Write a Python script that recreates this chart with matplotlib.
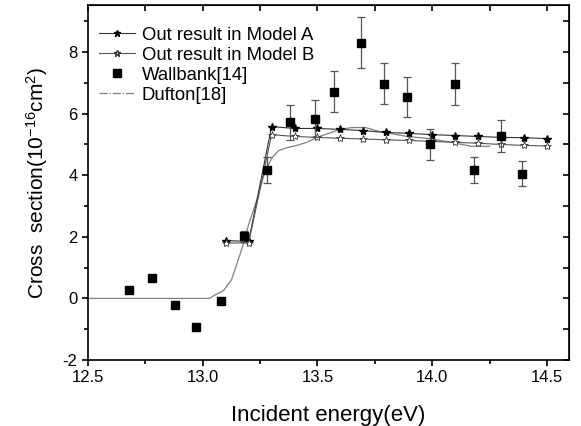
import matplotlib
matplotlib.use("Agg")
import matplotlib.pyplot as plt
from matplotlib.lines import Line2D
from matplotlib.ticker import MultipleLocator

plt.rcParams['font.family'] = ['Liberation Sans', 'DejaVu Sans']
plt.rcParams['mathtext.fontset'] = 'custom'
plt.rcParams['mathtext.rm'] = 'Liberation Sans'
plt.rcParams['mathtext.it'] = 'Liberation Sans'
plt.rcParams['axes.unicode_minus'] = False

# Model A (filled stars)
model_x = [13.1, 13.2, 13.3, 13.4, 13.5, 13.6, 13.7, 13.8, 13.9, 14.0, 14.1, 14.2, 14.3, 14.4, 14.5]
model_a = [1.88, 1.85, 5.58, 5.52, 5.52, 5.49, 5.45, 5.39, 5.36, 5.32, 5.29, 5.26, 5.23, 5.22, 5.19]
model_b = [1.80, 1.80, 5.32, 5.26, 5.23, 5.20, 5.18, 5.15, 5.13, 5.10, 5.07, 5.04, 5.00, 4.97, 4.95]

# Wallbank[14] experiment
wall_x = [12.68, 12.78, 12.88, 12.97, 13.08, 13.18, 13.28, 13.38, 13.49, 13.57,
          13.69, 13.79, 13.89, 13.99, 14.10, 14.18, 14.30, 14.39]
wall_y = [0.26, 0.65, -0.20, -0.92, -0.07, 2.02, 4.16, 5.72, 5.84, 6.72,
          8.31, 6.98, 6.53, 5.00, 6.95, 4.16, 5.27, 4.05]
wall_err = [0, 0, 0, 0, 0, 0.18, 0.42, 0.57, 0.60, 0.67,
            0.83, 0.68, 0.65, 0.50, 0.68, 0.42, 0.53, 0.40]

# Dufton[18]
duf_x = [12.5, 13.0, 13.03, 13.05, 13.09, 13.125, 13.15, 13.17, 13.185, 13.2, 13.24,
         13.27, 13.3, 13.33, 13.37, 13.41, 13.45, 13.5, 13.52, 13.6, 13.65, 13.71,
         13.77, 13.89, 13.99, 14.09, 14.17, 14.25]
duf_y = [0, 0, 0, 0.1, 0.25, 0.6, 1.15, 1.6, 2.0, 2.4, 3.3,
         4.1, 4.55, 4.8, 4.9, 4.97, 5.06, 5.23, 5.29, 5.49, 5.55, 5.55,
         5.42, 5.26, 5.19, 5.06, 4.94, 4.94]

fig = plt.figure(figsize=(5.81, 4.26), dpi=100)
ax = fig.add_axes([88/581, 1-360/426, (569-88)/581, (360-5)/426])

ax.plot(duf_x, duf_y, color='#808080', lw=0.9)
ax.plot(model_x, model_a, color='#333333', lw=0.8, marker='*', ms=6,
        mfc='black', mec='black')
ax.plot(model_x, model_b, color='#555555', lw=0.8, marker='*', ms=6,
        mfc='white', mec='#333333', mew=0.6)
ax.errorbar(wall_x, wall_y, yerr=wall_err, fmt='s', color='black', ms=6,
            ecolor='#555555', elinewidth=0.9, capsize=3, capthick=0.9)

ax.set_xlim(12.5, 14.596)
ax.set_ylim(-2, 9.53)
ax.xaxis.set_major_locator(MultipleLocator(0.5))
ax.xaxis.set_minor_locator(MultipleLocator(0.25))
ax.yaxis.set_major_locator(MultipleLocator(2))
ax.yaxis.set_minor_locator(MultipleLocator(1))
ax.set_xticks([12.5, 13.0, 13.5, 14.0, 14.5])
ax.set_xticklabels(['12.5', '13.0', '13.5', '14.0', '14.5'])
ax.tick_params(which='both', direction='out', length=4, width=1.2, labelsize=12)
ax.tick_params(which='minor', length=3)
for s in ax.spines.values():
    s.set_linewidth(1.2)

# inward ticks on top and right
axt = ax.secondary_xaxis('top')
axt.xaxis.set_major_locator(MultipleLocator(0.25))
axt.tick_params(direction='in', length=4, width=1.2, labeltop=False)
axr = ax.secondary_yaxis('right')
axr.yaxis.set_major_locator(MultipleLocator(1))
axr.tick_params(direction='in', length=4, width=1.2, labelright=False)

ax.set_xlabel('Incident energy(eV)', fontsize=16, labelpad=14)
ax.set_ylabel(r'Cross  section(10$^{-16}$cm$^{2}$)', fontsize=15, labelpad=9)

handles = [
    Line2D([], [], color='#333333', lw=0.8, marker='*', ms=5, mfc='black', mec='black'),
    Line2D([], [], color='#555555', lw=0.8, marker='*', ms=5, mfc='white', mec='#333333'),
    Line2D([], [], ls='none', marker='s', ms=6, color='black'),
    Line2D([], [], color='#808080', lw=0.9, ls='-.'),
]
labels = ['Out result in Model A', 'Out result in Model B', 'Wallbank[14]', 'Dufton[18]']
ax.legend(handles, labels, loc='upper left', frameon=False, fontsize=13.3,
          bbox_to_anchor=(-0.005, 0.975), handlelength=2.0, labelspacing=0.16,
          handletextpad=0.35, borderaxespad=0.3)

fig.savefig('out.png', dpi=100)
